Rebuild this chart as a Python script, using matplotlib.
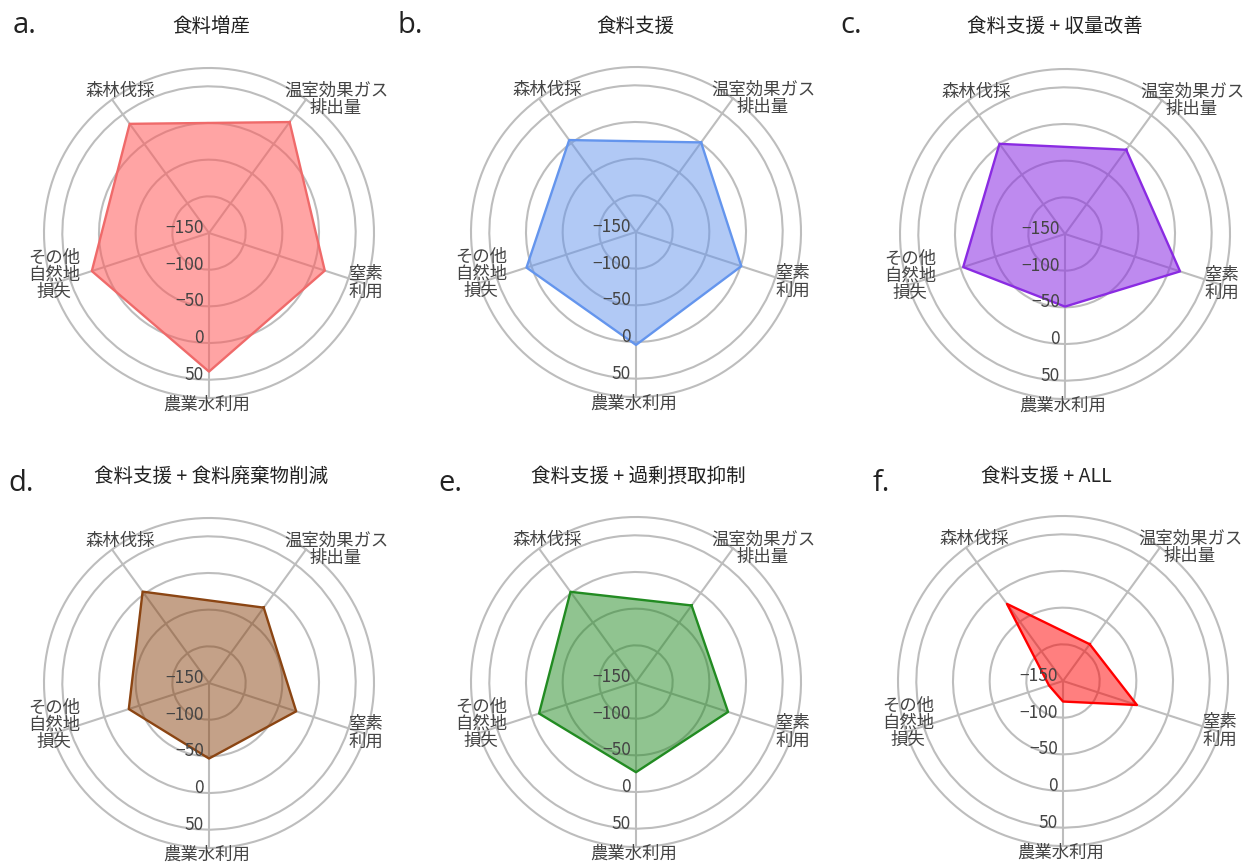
import numpy as np
import matplotlib
matplotlib.use("Agg")
import matplotlib.pyplot as plt

plt.rcParams['font.family'] = ['Noto Sans CJK JP', 'DejaVu Sans']

# 軸ラベル (時計回り、右上から)
categories = ['温室効果ガス\n排出量', '窒素\n利用', '農業水利用', 'その他\n自然地\n損失', '森林伐採']

# 各シナリオの値
vals_a = [37, 16, 39, 18, 34]
vals_b = [1, 1, 4, 7, 5]
vals_c = [-8, 15, -51, -4, 2]
vals_d = [-23, -25, -47, -35, 4]
vals_e = [-21, -18, -27, -11, 2]
vals_f = [-88, -44, -122, -130, -20]

titles = ['食料増産', '食料支援', '食料支援 + 収量改善',
          '食料支援 + 食料廃棄物削減', '食料支援 + 過剰摂取抑制', '食料支援 + ALL']
letters = ['a.', 'b.', 'c.', 'd.', 'e.', 'f.']
colors = ['#ff5a5a', '#6495ed', '#8a2be2', '#8b4513', '#228b22', '#ff0000']
edge_colors = ['#ef6a6a', '#6495ed', '#8a2be2', '#8b4513', '#228b22', '#ff0000']
fill_alpha = [0.55, 0.5, 0.55, 0.5, 0.5, 0.5]

r_ticks = [-150, -100, -50, 0, 50]
r_min, r_max = -150, 75

all_vals = [vals_a, vals_b, vals_c, vals_d, vals_e, vals_f]

W, H = 1252, 867
fig = plt.figure(figsize=(W / 100, H / 100), dpi=100)

centers = [(209, 233), (636, 232), (1065, 234), (209, 683), (636, 682), (1063, 681)]
title_x = [211, 635, 1055, 211, 638, 1046]
letter_pos = [(13, 33), (398, 33), (840, 33), (8, 491), (438, 491), (873, 491)]
R = 165

# ラベルのずらし (pixel)
label_offsets = [(30, 0), (0, 1), (-2, -7), (2, 9), (8, 9)]

n = len(categories)
angles = np.linspace(0, 2 * np.pi, n, endpoint=False)
grid_col = '#bdbdbd'
text_col = '#444444'

for i, vals in enumerate(all_vals):
    cx, cy = centers[i]
    ax = fig.add_axes([(cx - R) / W, (H - cy - R) / H, 2 * R / W, 2 * R / H],
                      projection='polar')
    ax.set_theta_offset(np.deg2rad(54))
    ax.set_theta_direction(-1)
    ax.set_ylim(r_min, r_max)

    th = np.append(angles, angles[0])
    v = np.append(vals, vals[0])
    ax.fill(th, v, color=colors[i], alpha=fill_alpha[i], zorder=2, lw=0)
    ax.plot(th, v, color=edge_colors[i], lw=1.7, zorder=3)

    ax.set_xticks(angles)
    ax.set_xticklabels([])
    ax.set_yticks(r_ticks[1:])
    ax.set_yticklabels([])
    ax.grid(True, color=grid_col, lw=1.5)
    ax.spines['polar'].set_color(grid_col)
    ax.spines['polar'].set_linewidth(1.5)
    ax.tick_params(length=0)
    ax.set_facecolor('none')

    for k, lab in enumerate(categories):
        dx, dy = label_offsets[k]
        ax.annotate(lab, xy=(angles[k], r_max), xytext=(dx, dy),
                    textcoords='offset pixels', ha='center', va='center',
                    fontsize=12.5, color=text_col, linespacing=0.95,
                    annotation_clip=False, zorder=5)

    for t in r_ticks:
        ax.annotate(str(t).replace('-', '\u2212'), xy=(angles[2], t), xytext=(-5, 5),
                    textcoords='offset pixels', ha='right', va='center',
                    fontsize=12.5, color=text_col, annotation_clip=False, zorder=5)

    fig.text(title_x[i] / W, 1 - (26 if i < 3 else 476) / H, titles[i],
             ha='center', va='center', fontsize=14, color='#222222')
    lx, ly = letter_pos[i]
    fig.text(lx / W, 1 - ly / H, letters[i], ha='left', va='baseline',
             fontsize=21, color='#222222', family=['Open Sans', 'DejaVu Sans'])

fig.savefig('out.png', dpi=100, facecolor='white')
